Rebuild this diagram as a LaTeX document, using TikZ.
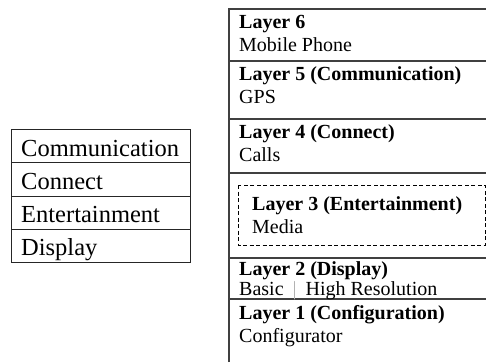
\documentclass[tikz,border=0pt]{standalone}
\usepackage{fontspec}
\setmainfont{Liberation Serif}
\usetikzlibrary{positioning}

\begin{document}
\begin{tikzpicture}[
  x=1pt, y=-1pt,
  feature/.style={anchor=base west, inner sep=0pt, font=\fontsize{24.5}{29}\selectfont},
  title/.style={anchor=base west, inner sep=0pt, font=\fontsize{20}{24}\selectfont\bfseries},
  detail/.style={anchor=base west, inner sep=0pt, font=\fontsize{20}{24}\selectfont},
  gridline/.style={draw=black!85, line width=0.8pt},
  layerline/.style={draw=black!75, line width=1.3pt},
]
\useasboundingbox (0,0) rectangle (486,362);

% feature list on the left
\draw[gridline] (11,129) rectangle (190,262);
\foreach \y in {162,196,229}
  \draw[gridline] (11,\y) -- (190,\y);
\foreach \n/\y/\name in {1/156/Communication, 2/189/Connect, 3/222/Entertainment, 4/255/Display}
  \node[feature] (feat\n) at (21,\y) {\name};

% layer stack on the right
\draw[layerline] (229,362) -- (229,9) -- (486,9);
\foreach \y in {61,119,173,258,299}
  \draw[layerline] (229,\y) -- (486,\y);

% layer 3 is optional, so it gets a dashed frame
\draw[dash pattern=on 4pt off 2.5pt, line width=0.8pt] (238,185) rectangle (485,245);

\node[title]  (layer6) at (239,28)  {Layer 6};
\node[detail] (part6)  at (239,51)  {Mobile Phone};
\node[title]  (layer5) at (239,80)  {Layer 5 (Communication)};
\node[detail] (part5)  at (239,103) {GPS};
\node[title]  (layer4) at (239,138) {Layer 4 (Connect)};
\node[detail] (part4)  at (239,161) {Calls};
\node[title]  (layer3) at (252,210) {Layer 3 (Entertainment)};
\node[detail] (part3)  at (252,233) {Media};
\node[title]  (layer2) at (239,275) {Layer 2 (Display)};
\node[detail] (part2)  at (239,295)
  {Basic\hspace{9pt}\textcolor{black!30}{|}\hspace{9pt}High Resolution};
\node[title]  (layer1) at (239,319) {Layer 1 (Configuration)};
\node[detail] (part1)  at (239,342) {Configurator};
\end{tikzpicture}
\end{document}
